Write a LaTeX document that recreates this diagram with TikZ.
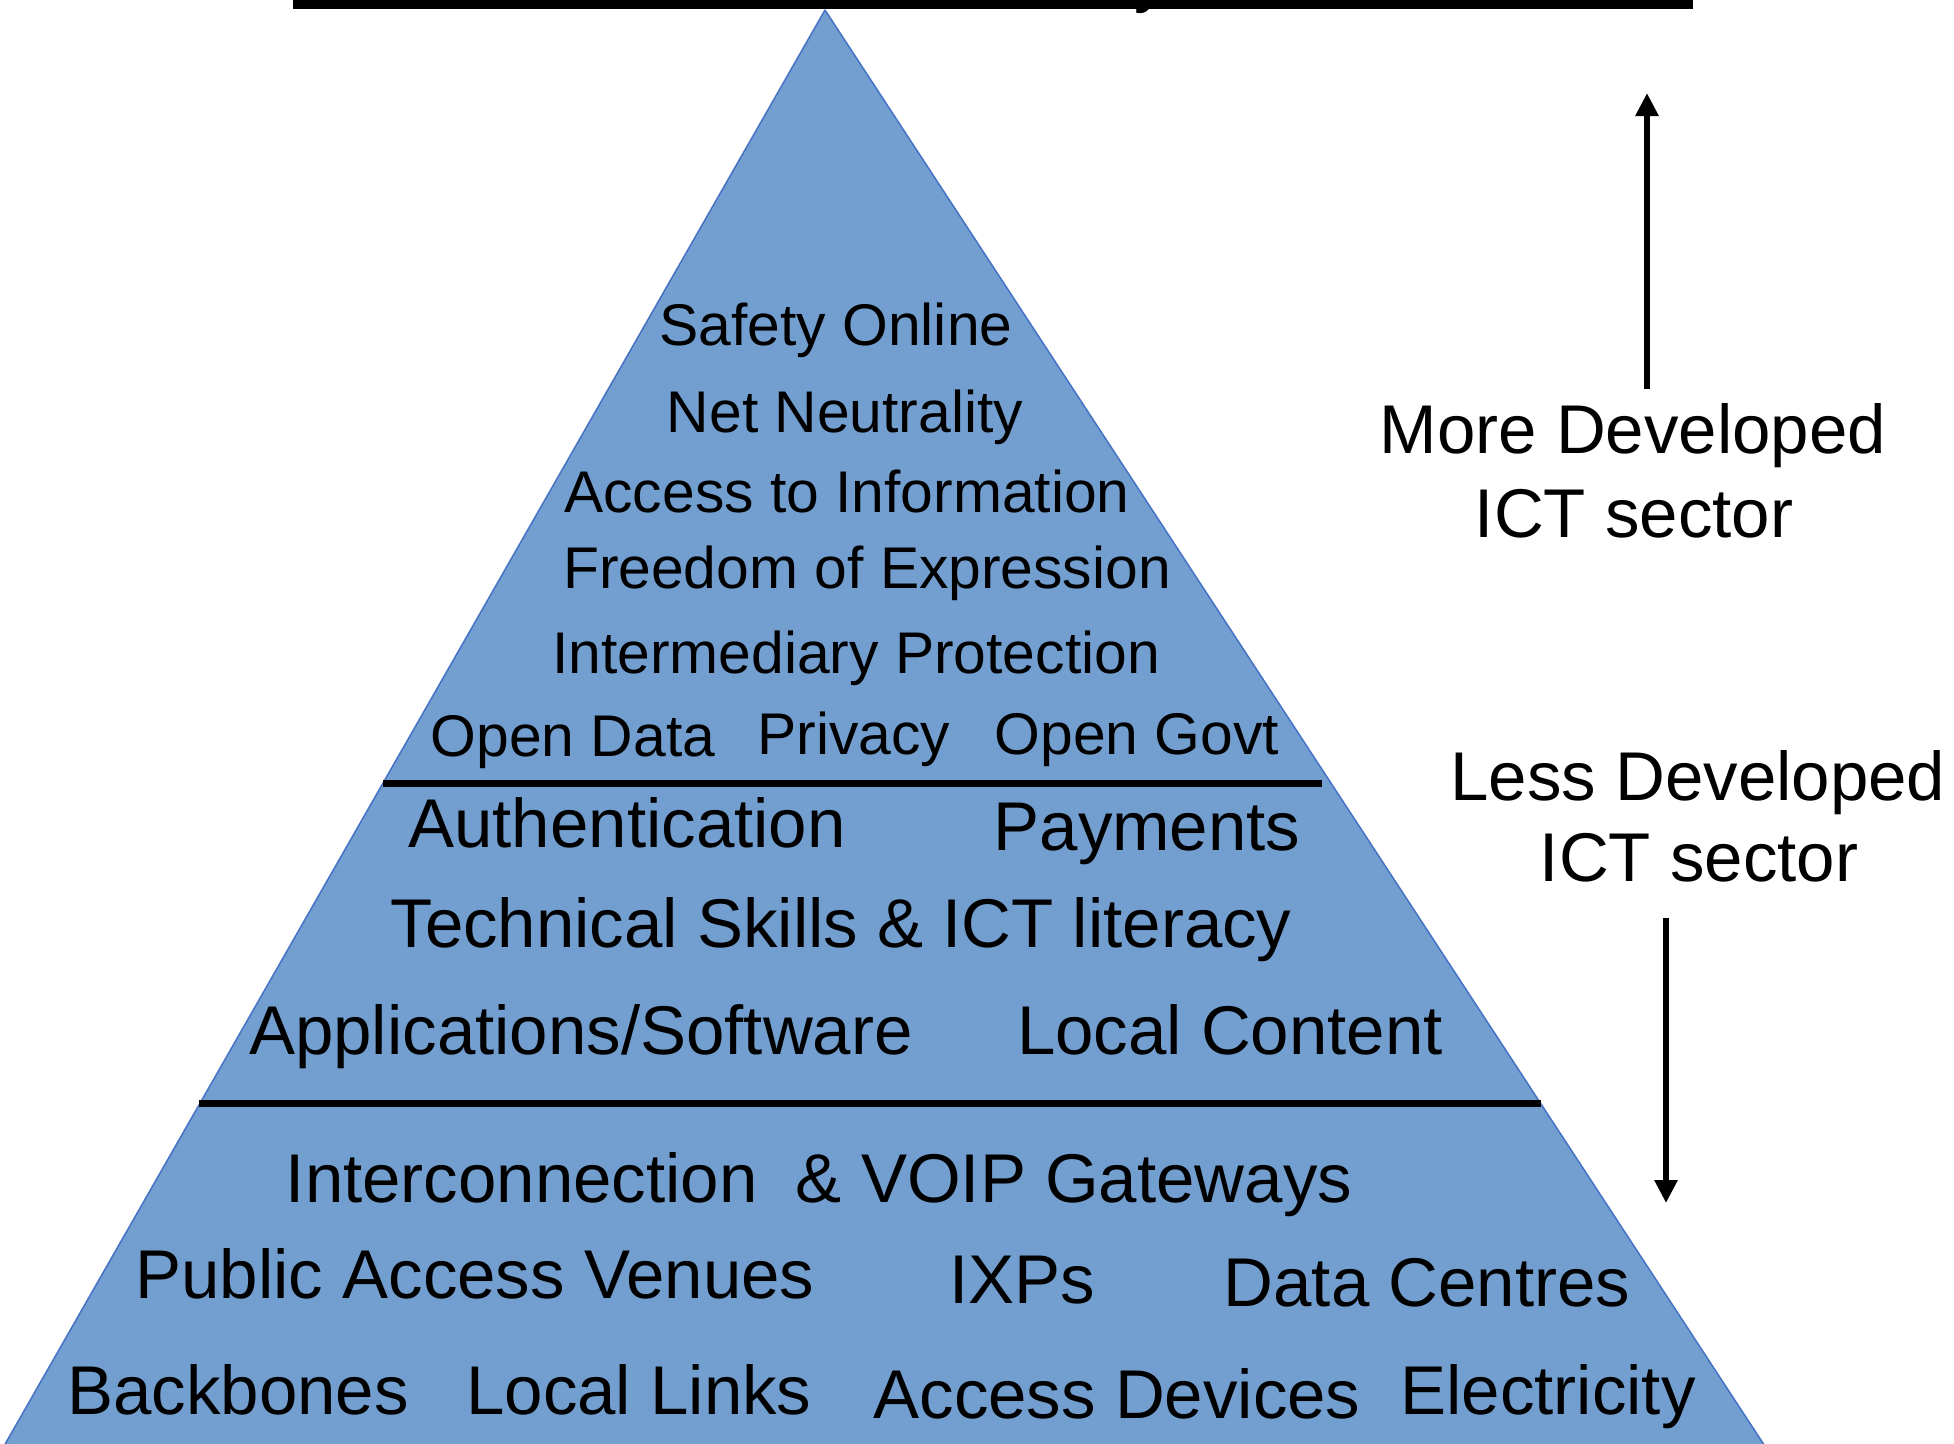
\documentclass[tikz,border=0pt]{standalone}
\usepackage{fontspec}
\setmainfont{Liberation Sans}
\usetikzlibrary{arrows.meta}
\definecolor{pyrfill}{RGB}{114,159,207}
\definecolor{pyredge}{RGB}{68,114,196}
\tikzset{
  small/.style={anchor=base, inner sep=0pt, font=\fontsize{58.8}{70}\selectfont},
  big/.style={anchor=base, inner sep=0pt, font=\fontsize{69}{82}\selectfont},
  divider/.style={line width=7pt, black},
  devarrow/.style={line width=6.5pt, -{Triangle[length=23pt,width=22pt]}},
}
\begin{document}
\begin{tikzpicture}[x=1pt,y=-1pt]
\useasboundingbox (0,0) rectangle (1954,1443);
% cut-off title fragment (descender)
\node[anchor=base west, inner sep=0pt, font=\fontsize{68}{80}\selectfont] (ttl) at (1134,-1) {y};
\fill[black] (293,0) rectangle (1693,9);
% pyramid
\draw[fill=pyrfill, draw=pyredge, line width=1.5pt, line join=round] (825,10) -- (1774,1460) -- (-4,1460) -- cycle;
% dividers
\draw[divider] (383,783) -- (1322,783);
\draw[divider] (199,1103) -- (1541,1103);
% top tier
\node[small] (t1) at (836,345) {Safety Online};
\node[small] (t2) at (845,432) {Net Neutrality};
\node[small] (t3) at (847,512) {Access to Information};
\node[small] (t4) at (867,588) {Freedom of Expression};
\node[small] (t5) at (856,673) {Intermediary Protection};
\node[small] (t6) at (573,756) {Open Data};
\node[small] (t7) at (854,754) {Privacy};
\node[small] (t8) at (1137,754) {Open Govt};
% middle tier
\node[big] (m1) at (627,847) {Authentication};
\node[big] (m2) at (1147,850) {Payments};
\node[big] (m3) at (841,947) {Technical Skills \& ICT literacy};
\node[big] (m4) at (581,1054) {Applications/Software};
\node[big] (m5) at (1230,1054) {Local Content};
% bottom tier
\node[big] (b1) at (819,1202) {Interconnection\ \ \& VOIP Gateways};
\node[big] (b2) at (475,1298) {Public Access Venues};
\node[big] (b3) at (1022,1303) {IXPs};
\node[big] (b4) at (1427,1306) {Data Centres};
\node[big] (b5) at (238,1414) {Backbones};
\node[big] (b6) at (639,1414) {Local Links};
\node[big] (b7) at (1117,1418) {Access Devices};
\node[big] (b8) at (1548,1414) {Electricity};
% right side labels
\node[big] (r1) at (1633,453) {More Developed};
\node[big] (r2) at (1634,537) {ICT sector};
\node[big] (r3) at (1698,800) {Less Developed};
\node[big] (r4) at (1699,881) {ICT sector};
\coordinate (upA) at (1647,389);
\coordinate (upB) at (1647,93);
\coordinate (dnA) at (1666,918);
\coordinate (dnB) at (1666,1203);
\draw[devarrow] (upA) -- (upB);
\draw[devarrow] (dnA) -- (dnB);
\end{tikzpicture}
\end{document}
